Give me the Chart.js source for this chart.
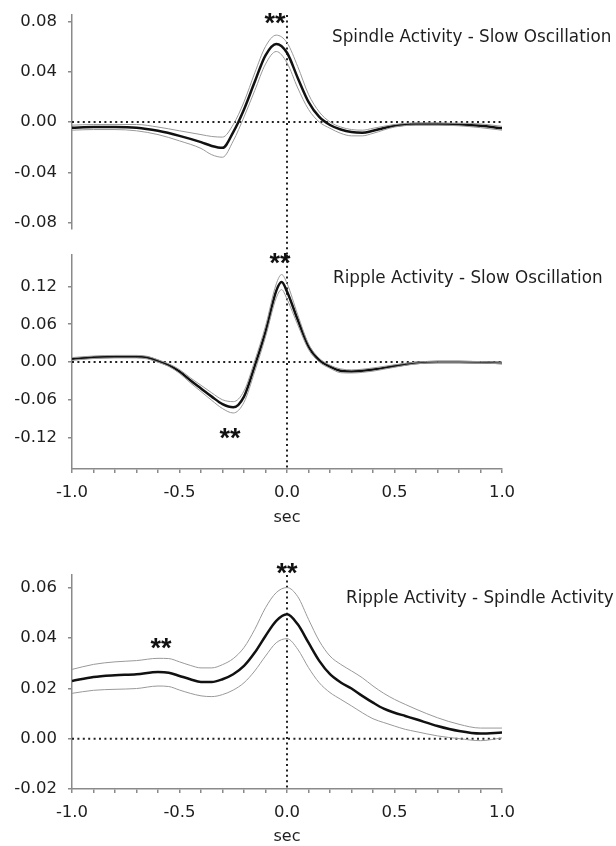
<!DOCTYPE html>
<html lang="en">
<head>
    <meta charset="UTF-8">
    <title>Cross-correlation: spindles, ripples, slow oscillations</title>
    <script src="https://cdn.jsdelivr.net/npm/chart.js"></script>
    <style>
        body {
            margin: 0;
            background: #fff;
            width: 616px;
            height: 846px;
            overflow: hidden;
            position: relative;
            font-family: 'DejaVu Sans', sans-serif;
        }
        canvas { position: absolute; left: 0; }
        .ttl {
            position: absolute;
            font-size: 16.8px;
            line-height: 20px;
            color: #1e1e1e;
            white-space: nowrap;
        }
    </style>
</head>
<body>
    <canvas id="spSo" width="616" height="255" style="top:0px"></canvas>
    <canvas id="riSo" width="616" height="300" style="top:240px"></canvas>
    <canvas id="riSp" width="616" height="300" style="top:546px"></canvas>

    <div class="ttl" style="left:332px; top:26px">Spindle Activity - Slow Oscillation</div>
    <div class="ttl" style="left:333px; top:267px">Ripple Activity - Slow Oscillation</div>
    <div class="ttl" style="left:346px; top:587px">Ripple Activity - Spindle Activity</div>

    <script>
        // x ticks (sec), labelled every 0.5
        const xTicks = [-1.0, -0.9, -0.8, -0.7, -0.6, -0.5, -0.4, -0.3, -0.2, -0.1, 0.0,
                        0.1, 0.2, 0.3, 0.4, 0.5, 0.6, 0.7, 0.8, 0.9, 1.0];

        // Spindle Activity - Slow Oscillation
        const spSoTicks = [-0.08, -0.04, 0.00, 0.04, 0.08];
        const spSoX = [-1.0, -0.9, -0.8, -0.7, -0.6, -0.5, -0.4, -0.35, -0.3, -0.25, -0.2, -0.15, -0.1, -0.05, 0.0,
                       0.05, 0.1, 0.15, 0.2, 0.25, 0.3, 0.35, 0.4, 0.5, 0.6, 0.7, 0.8, 0.9, 1.0];
        const spSoMean = [-0.0045, -0.004, -0.004, -0.0045, -0.007, -0.011, -0.016, -0.019, -0.0205, -0.008, 0.010, 0.032, 0.053, 0.062, 0.055,
                          0.035, 0.016, 0.004, -0.0024, -0.006, -0.008, -0.0085, -0.007, -0.003, -0.0015, -0.0015, -0.002, -0.003, -0.005];
        const spSoUpper = [-0.0025, -0.002, -0.002, -0.002, -0.004, -0.007, -0.010, -0.0115, -0.012, -0.002, 0.016, 0.039, 0.060, 0.069, 0.063,
                           0.044, 0.022, 0.008, 0.000, -0.004, -0.006, -0.0065, -0.005, -0.002, -0.0008, -0.0008, -0.001, -0.0015, -0.0035];
        const spSoLower = [-0.0065, -0.006, -0.006, -0.007, -0.010, -0.015, -0.021, -0.026, -0.028, -0.015, 0.004, 0.025, 0.046, 0.056, 0.047,
                           0.027, 0.010, 0.000, -0.005, -0.009, -0.011, -0.011, -0.009, -0.004, -0.0025, -0.0025, -0.003, -0.0045, -0.0065];
        const spSoStars = [[-0.056, 0.084]];

        // Ripple Activity - Slow Oscillation
        const riSoTicks = [-0.12, -0.06, 0.00, 0.06, 0.12];
        const riSoX = [-1.0, -0.9, -0.8, -0.7, -0.65, -0.6, -0.55, -0.5, -0.45, -0.4, -0.35, -0.3, -0.25, -0.2, -0.15, -0.1, -0.05, -0.025, 0.0,
                       0.05, 0.1, 0.15, 0.2, 0.25, 0.3, 0.35, 0.4, 0.5, 0.6, 0.7, 0.8, 0.9, 1.0];
        const riSoMean = [0.0048, 0.0075, 0.0085, 0.0085, 0.007, 0.0016, -0.005, -0.015, -0.029, -0.042, -0.055, -0.067, -0.072, -0.055, -0.006, 0.048, 0.113, 0.127, 0.112,
                          0.067, 0.0245, 0.003, -0.0075, -0.014, -0.015, -0.014, -0.012, -0.0064, -0.0016, 0.0, 0.0, -0.0005, -0.0016];
        const riSoUpper = [0.007, 0.0095, 0.0105, 0.0105, 0.009, 0.0035, -0.003, -0.012, -0.025, -0.037, -0.049, -0.060, -0.063, -0.046, 0.002, 0.057, 0.124, 0.139, 0.125,
                           0.075, 0.029, 0.006, -0.005, -0.011, -0.0125, -0.0115, -0.0095, -0.0045, -0.0002, 0.0012, 0.0012, 0.0007, -0.0004];
        const riSoLower = [0.0026, 0.0055, 0.0065, 0.0065, 0.005, -0.0003, -0.007, -0.018, -0.033, -0.047, -0.061, -0.074, -0.081, -0.064, -0.015, 0.040, 0.102, 0.115, 0.100,
                           0.059, 0.020, 0.000, -0.010, -0.017, -0.0175, -0.0165, -0.0145, -0.0083, -0.003, -0.0012, -0.0012, -0.0017, -0.0028];
        const riSoStars = [[-0.033, 0.167], [-0.265, -0.111]];

        // Ripple Activity - Spindle Activity
        const riSpTicks = [-0.02, 0.00, 0.02, 0.04, 0.06];
        const riSpX = [-1.0, -0.9, -0.8, -0.7, -0.6, -0.55, -0.5, -0.45, -0.4, -0.35, -0.3, -0.25, -0.2, -0.15, -0.1, -0.05, 0.0,
                       0.05, 0.1, 0.15, 0.2, 0.25, 0.3, 0.35, 0.4, 0.45, 0.5, 0.55, 0.6, 0.7, 0.8, 0.9, 1.0];
        const riSpMean = [0.0229, 0.0245, 0.0252, 0.0256, 0.0265, 0.0262, 0.0249, 0.0236, 0.0225, 0.0225, 0.0236, 0.0256, 0.0289, 0.0342, 0.0408, 0.0468, 0.0494,
                          0.0454, 0.0381, 0.0309, 0.0256, 0.0223, 0.0199, 0.017, 0.0143, 0.0119, 0.0103, 0.009, 0.0077, 0.005, 0.003, 0.002, 0.0024];
        const riSpUpper = [0.0275, 0.0295, 0.0305, 0.031, 0.0319, 0.0318, 0.0305, 0.0291, 0.0281, 0.0281, 0.0294, 0.0318, 0.0362, 0.0434, 0.052, 0.058, 0.060,
                           0.0564, 0.0474, 0.0388, 0.0328, 0.0295, 0.0269, 0.0242, 0.0209, 0.018, 0.0156, 0.0136, 0.0117, 0.0083, 0.0057, 0.0042, 0.0042];
        const riSpLower = [0.018, 0.0192, 0.0196, 0.0199, 0.0209, 0.0207, 0.0193, 0.018, 0.017, 0.0167, 0.0175, 0.0193, 0.0222, 0.0269, 0.0328, 0.0381, 0.0397,
                           0.0355, 0.0282, 0.0222, 0.0183, 0.0156, 0.013, 0.0103, 0.0079, 0.0064, 0.005, 0.0037, 0.0028, 0.0011, 0.0, -0.0008, 0.0003];
        const riSpStars = [[0.0, 0.0684], [-0.586, 0.0384]];

        const AXIS = '#8a8a8a';
        const TEXT = '#1e1e1e';
        const FONT = 'DejaVu Sans';

        // dotted zero lines + significance stars
        const decor = {
            id: 'decor',
            beforeDatasetsDraw(chart, args, opts) {
                const {ctx, chartArea: a, scales: {x, y}} = chart;
                ctx.save();
                ctx.strokeStyle = '#222';
                ctx.lineWidth = 2;
                ctx.setLineDash([2, 3.4]);
                const y0 = y.getPixelForValue(0);
                ctx.beginPath();
                ctx.moveTo(a.left, y0);
                ctx.lineTo(a.right, y0);
                ctx.stroke();
                const x0 = x.getPixelForValue(0);
                ctx.beginPath();
                ctx.moveTo(x0, a.top + opts.vTop);
                ctx.lineTo(x0, a.bottom + opts.vBottom);
                ctx.stroke();
                ctx.restore();
            },
            afterDatasetsDraw(chart, args, opts) {
                const {ctx, scales: {x, y}} = chart;
                const size = 27;
                ctx.save();
                ctx.fillStyle = '#111';
                ctx.font = 'bold ' + size + 'px "Liberation Sans"';
                ctx.textAlign = 'center';
                ctx.textBaseline = 'alphabetic';
                opts.stars.forEach(s => {
                    ctx.fillText('**', x.getPixelForValue(s[0]), y.getPixelForValue(s[1]) + size * 0.575);
                });
                ctx.restore();
            }
        };

        function line(xs, ys, color, width) {
            return {
                data: xs.map((v, i) => ({x: v, y: ys[i]})),
                borderColor: color,
                borderWidth: width,
                pointRadius: 0,
                fill: false,
                cubicInterpolationMode: 'monotone'
            };
        }

        function panel(id, p) {
            return new Chart(document.getElementById(id), {
                type: 'line',
                data: {
                    datasets: [
                        line(p.xs, p.upper, '#999', 1),
                        line(p.xs, p.lower, '#999', 1),
                        line(p.xs, p.mean, '#111', 2.5)
                    ]
                },
                options: {
                    responsive: false,
                    animation: false,
                    layout: { padding: { top: p.padTop, right: 114, bottom: p.padBottom, left: 0 } },
                    plugins: {
                        legend: { display: false },
                        tooltip: { enabled: false },
                        decor: { stars: p.stars, vTop: p.vTop, vBottom: p.vBottom }
                    },
                    scales: {
                        x: {
                            type: 'linear',
                            min: -1, max: 1,
                            display: p.showX,
                            afterBuildTicks: s => { s.ticks = xTicks.map(v => ({value: v})); },
                            afterFit: s => { s.height = p.xHeight; s.paddingLeft = 0; s.paddingRight = 0; },
                            border: { display: true, color: AXIS, width: 1.5 },
                            grid: { drawOnChartArea: false, drawTicks: true, tickLength: 4, color: AXIS, lineWidth: 1.5 },
                            ticks: {
                                autoSkip: false, maxRotation: 0, padding: 10,
                                color: TEXT, font: { family: FONT, size: 16.5 },
                                callback: v => Math.abs(v * 2 - Math.round(v * 2)) < 1e-6 ? v.toFixed(1) : ''
                            },
                            title: {
                                display: true, text: 'sec', color: TEXT,
                                font: { family: FONT, size: 16 },
                                padding: { top: 0, bottom: p.secPad }
                            }
                        },
                        y: {
                            min: p.yMin, max: p.yMax,
                            afterBuildTicks: s => { s.ticks = p.yTicks.map(v => ({value: v})); },
                            afterFit: s => { s.width = 72; s.paddingTop = 0; s.paddingBottom = 0; },
                            border: { display: true, color: AXIS, width: 1.5 },
                            grid: { drawOnChartArea: false, drawTicks: true, tickLength: 4, color: AXIS, lineWidth: 1.5 },
                            ticks: {
                                padding: 11, color: TEXT,
                                font: { family: FONT, size: 16.5 },
                                callback: v => v.toFixed(2)
                            }
                        }
                    }
                },
                plugins: [decor]
            });
        }

        panel('spSo', {
            xs: spSoX, mean: spSoMean, upper: spSoUpper, lower: spSoLower, stars: spSoStars,
            yTicks: spSoTicks, yMin: -0.085, yMax: 0.085,
            showX: false, xHeight: 0, secPad: 0,
            padTop: 15, padBottom: 26, vTop: 0, vBottom: 26
        });
        panel('riSo', {
            xs: riSoX, mean: riSoMean, upper: riSoUpper, lower: riSoLower, stars: riSoStars,
            yTicks: riSoTicks, yMin: -0.17, yMax: 0.17,
            showX: true, xHeight: 71, secPad: 13,
            padTop: 15, padBottom: 0, vTop: 0, vBottom: 0
        });
        panel('riSp', {
            xs: riSpX, mean: riSpMean, upper: riSpUpper, lower: riSpLower, stars: riSpStars,
            yTicks: riSpTicks, yMin: -0.02, yMax: 0.065,
            showX: true, xHeight: 57, secPad: 0,
            padTop: 29, padBottom: 0, vTop: 0, vBottom: 0
        });
    </script>
</body>
</html>
